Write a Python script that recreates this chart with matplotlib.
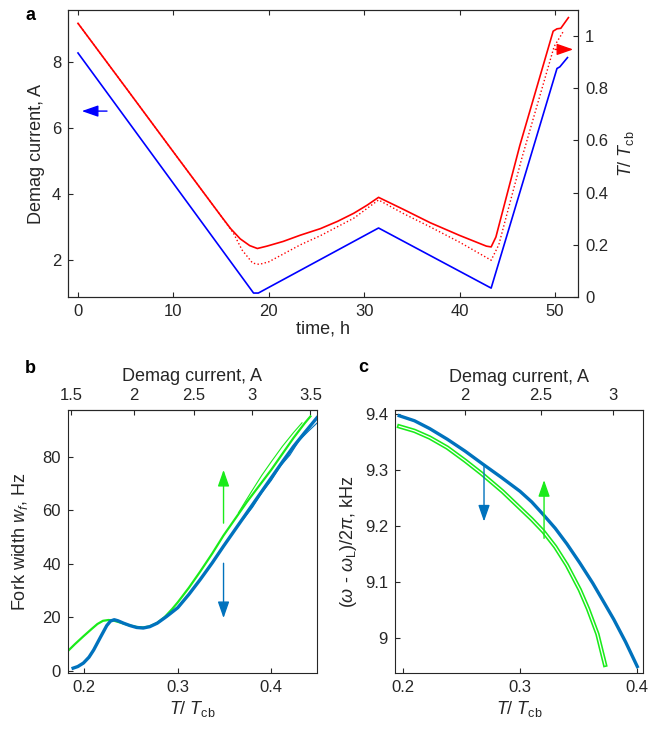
import numpy as np
import matplotlib.pyplot as plt
import matplotlib.patheffects as pe

plt.rcParams['font.family'] = ['Liberation Sans', 'DejaVu Sans']
plt.rcParams['mathtext.fontset'] = 'custom'
plt.rcParams['mathtext.rm'] = 'Liberation Sans'
plt.rcParams['mathtext.it'] = 'Liberation Sans:italic'
plt.rcParams['mathtext.bf'] = 'Liberation Sans:bold'
plt.rcParams['xtick.direction'] = 'in'
plt.rcParams['ytick.direction'] = 'in'
plt.rcParams['axes.linewidth'] = 0.8
plt.rcParams['xtick.major.width'] = 0.8
plt.rcParams['ytick.major.width'] = 0.8
plt.rcParams['xtick.major.size'] = 3.5
plt.rcParams['ytick.major.size'] = 3.5
plt.rcParams['xtick.major.pad'] = 5
plt.rcParams['ytick.major.pad'] = 5
gray = '#262626'
for k in ['text.color', 'axes.labelcolor', 'xtick.color', 'ytick.color', 'axes.edgecolor']:
    plt.rcParams[k] = gray

TICK = 12
LAB = 13
GREEN = '#1aeb1a'
MBLUE = '#0072bd'

# ---- panel a: demag current (left) and T/Tcb (right) vs time ----
t_cur = [0, 18.4, 18.9, 31.5, 43.3, 50.2, 50.5, 51.3]
cur = [8.27, 1.0, 1.0, 2.97, 1.15, 7.8, 7.85, 8.13]

t_temp = [0, 5, 10, 15, 16, 17, 18, 18.8, 19.8, 21.5, 23.3, 25.4, 27.2, 28.9, 30.3, 31.5,
          34.1, 36.9, 40.0, 42.8, 43.3, 43.8, 46.3, 49.8, 50.2, 50.6, 51.4]
temp = [1.049, 0.803, 0.556, 0.31, 0.262, 0.223, 0.197, 0.186, 0.195, 0.213, 0.237, 0.262, 0.29, 0.321, 0.352, 0.382,
        0.336, 0.285, 0.236, 0.195, 0.192, 0.23, 0.58, 1.019, 1.028, 1.03, 1.071]

t_temp2 = [0, 5, 10, 15, 16.3, 17.2, 18.3, 19.0, 20.0, 23.3, 25.4, 28.9, 31.5,
           34.1, 36.9, 40.0, 43.3, 44.1, 46.5, 49.9, 50.9]
temp2 = [1.049, 0.803, 0.556, 0.31, 0.244, 0.18, 0.13, 0.125, 0.135, 0.2, 0.235, 0.302, 0.372,
         0.32, 0.269, 0.21, 0.141, 0.2, 0.53, 0.96, 1.02]

# ---- panel b: fork width vs T/Tcb ----
bT_blue = [0.188, 0.193, 0.199, 0.205, 0.210, 0.217, 0.224, 0.228, 0.232, 0.236, 0.242, 0.249, 0.256, 0.263,
           0.270, 0.278, 0.288, 0.300, 0.312, 0.324, 0.337, 0.349, 0.362, 0.374, 0.387, 0.400, 0.412,
           0.424, 0.436, 0.449]
bw_blue = [0.9, 1.5, 2.8, 5.0, 7.7, 12.3, 16.8, 18.5, 19.0, 18.6, 17.7, 16.8, 16.1, 15.9,
           16.4, 17.7, 20.2, 23.5, 28.5, 34.0, 40.3, 46.5, 53.0, 59.0, 65.5, 72.0, 78.0,
           83.8, 89.0, 94.5]
bT_blue2 = [0.37, 0.38, 0.39, 0.40, 0.41, 0.42, 0.43, 0.44, 0.449]
bw_blue2 = [56.5, 61.0, 66.5, 71.0, 76.5, 80.5, 86.0, 89.5, 92.5]

bT_green = [0.183, 0.190, 0.199, 0.208, 0.214, 0.220, 0.226, 0.232, 0.240, 0.248, 0.256, 0.263, 0.270,
            0.278, 0.286, 0.294, 0.300, 0.312, 0.324, 0.337, 0.349, 0.362, 0.374, 0.387, 0.400, 0.412,
            0.424, 0.436, 0.442]
bw_green = [7.5, 9.9, 12.8, 15.6, 17.4, 18.6, 18.9, 18.6, 17.8, 16.9, 16.3, 16.1, 16.5,
            17.8, 20.0, 23.0, 25.5, 31.0, 37.0, 43.8, 50.5, 57.0, 63.0, 69.0, 75.0, 81.0,
            87.0, 92.5, 95.0]
bT_green2 = [0.365, 0.372, 0.380, 0.390, 0.400, 0.412, 0.424, 0.433]
bw_green2 = [59.0, 63.0, 67.5, 73.0, 78.0, 83.8, 89.0, 92.6]

# ---- panel c: frequency vs T/Tcb ----
cT_blue = [0.197, 0.210, 0.223, 0.238, 0.253, 0.268, 0.284, 0.300, 0.310, 0.320, 0.330, 0.340,
           0.351, 0.362, 0.372, 0.380, 0.390, 0.400]
cf_blue = [9.397, 9.388, 9.374, 9.355, 9.334, 9.311, 9.287, 9.262, 9.243, 9.220, 9.196, 9.168,
           9.134, 9.098, 9.062, 9.033, 8.993, 8.949]
cT_green = [0.197, 0.210, 0.223, 0.238, 0.253, 0.267, 0.285, 0.300, 0.310, 0.320, 0.330, 0.340,
            0.351, 0.358, 0.366, 0.3725]
cf_green = [9.378, 9.370, 9.358, 9.340, 9.317, 9.294, 9.262, 9.232, 9.212, 9.190, 9.163, 9.130,
            9.086, 9.052, 9.007, 8.952]

# current <-> T/Tcb conversion for the top axes
cur_tab = [1.0, 1.5, 2.0, 2.5, 3.0, 3.5, 4.0]
T_tab = [0.12, 0.186, 0.253, 0.3175, 0.3795, 0.442, 0.505]


def t2i(x):
    return np.interp(x, T_tab, cur_tab)


def i2t(x):
    return np.interp(x, cur_tab, T_tab)


def arrow(ax, x0, y0, x1, y1, color):
    ax.annotate('', xy=(x1, y1), xytext=(x0, y0),
                arrowprops=dict(arrowstyle='-|>,head_length=1.0,head_width=0.35', color=color,
                                lw=1.0, mutation_scale=10, shrinkA=0, shrinkB=0))


tcb = r'$T$/ $T_{\rm cb}$'

fig = plt.figure(figsize=(6.53, 7.33), dpi=100)

# panel a
axa = fig.add_axes([0.1041, 0.5948, 0.781, 0.3915])
axa.plot(t_cur, cur, color='#0000ff', lw=1.2)
axa.set_xlim(-1.05, 52.4)
axa.set_ylim(0.88, 9.57)
axa.set_xticks([0, 10, 20, 30, 40, 50])
axa.set_yticks([2, 4, 6, 8])
axa.tick_params(top=True, labelsize=TICK)
axa.set_xlabel('time, h', fontsize=LAB, labelpad=1)
axa.set_ylabel('Demag current, A', fontsize=LAB, labelpad=5)
arrow(axa, 3.04, 6.51, 0.4, 6.51, '#0000ff')

axr = axa.twinx()
axr.plot(t_temp, temp, color='#ff0000', lw=1.2)
axr.plot(t_temp2, temp2, color='#ff0000', lw=1.0, ls=':')
axr.set_ylim(0, 1.1)
axr.set_yticks([0, 0.2, 0.4, 0.6, 0.8, 1.0])
axr.set_yticklabels(['0', '0.2', '0.4', '0.6', '0.8', '1'])
axr.tick_params(labelsize=TICK)
axr.set_ylabel(tcb, fontsize=LAB, labelpad=6)
arrow(axr, 50.0, 0.949, 51.9, 0.949, '#ff0000')

# panel b
axb = fig.add_axes([0.1041, 0.0819, 0.3813, 0.3588])
axb.plot(bT_green, bw_green, color=GREEN, lw=1.6)
axb.plot(bT_green2, bw_green2, color=GREEN, lw=0.8)
axb.plot(bT_blue, bw_blue, color=MBLUE, lw=2.4)
axb.plot(bT_blue2, bw_blue2, color=MBLUE, lw=0.8)
axb.set_xlim(0.1825, 0.449)
axb.set_ylim(-0.9, 97.4)
axb.set_xticks([0.2, 0.3, 0.4])
axb.set_yticks([0, 20, 40, 60, 80])
axb.tick_params(labelsize=TICK)
axb.set_xlabel(tcb, fontsize=LAB, labelpad=3)
axb.set_ylabel(r'Fork width $w_f$, Hz', fontsize=LAB, labelpad=9)
arrow(axb, 0.349, 55.1, 0.349, 75.0, GREEN)
arrow(axb, 0.349, 40.1, 0.349, 19.6, MBLUE)
secb = axb.secondary_xaxis('top', functions=(t2i, i2t))
secb.set_xticks([1.5, 2, 2.5, 3, 3.5])
secb.set_xticklabels(['1.5', '2', '2.5', '3', '3.5'])
secb.tick_params(direction='in', labelsize=TICK)
secb.set_xlabel('Demag current, A', fontsize=LAB, labelpad=5)

# panel c
axc = fig.add_axes([0.6049, 0.0819, 0.3802, 0.3582])
gl, = axc.plot(cT_green, cf_green, color='white', lw=0.9)
gl.set_path_effects([pe.Stroke(linewidth=3.2, foreground=GREEN), pe.Normal()])
axc.plot(cT_blue, cf_blue, color=MBLUE, lw=2.4)
axc.set_xlim(0.1934, 0.4051)
axc.set_ylim(8.9375, 9.4065)
axc.set_xticks([0.2, 0.3, 0.4])
axc.set_yticks([9.0, 9.1, 9.2, 9.3, 9.4])
axc.set_yticklabels(['9', '9.1', '9.2', '9.3', '9.4'])
axc.tick_params(labelsize=TICK)
axc.set_xlabel(tcb, fontsize=LAB, labelpad=3)
axc.set_ylabel(r'($\omega$ - $\omega_{\rm L}$)/2$\pi$, kHz', fontsize=LAB, labelpad=4)
arrow(axc, 0.2693, 9.309, 0.2693, 9.208, MBLUE)
arrow(axc, 0.3205, 9.178, 0.3205, 9.282, GREEN)
secc = axc.secondary_xaxis('top', functions=(t2i, i2t))
secc.set_xticks([2, 2.5, 3])
secc.set_xticklabels(['2', '2.5', '3'])
secc.tick_params(direction='in', labelsize=TICK)
secc.set_xlabel('Demag current, A', fontsize=LAB, labelpad=5)

fig.text(30 / 653, 1 - 15 / 733, 'a', fontsize=13, fontweight='bold', ha='center', va='center', color='black')
fig.text(30 / 653, 1 - 368 / 733, 'b', fontsize=13, fontweight='bold', ha='center', va='center', color='black')
fig.text(363 / 653, 1 - 367 / 733, 'c', fontsize=13, fontweight='bold', ha='center', va='center', color='black')

fig.savefig('out.png', dpi=100)
